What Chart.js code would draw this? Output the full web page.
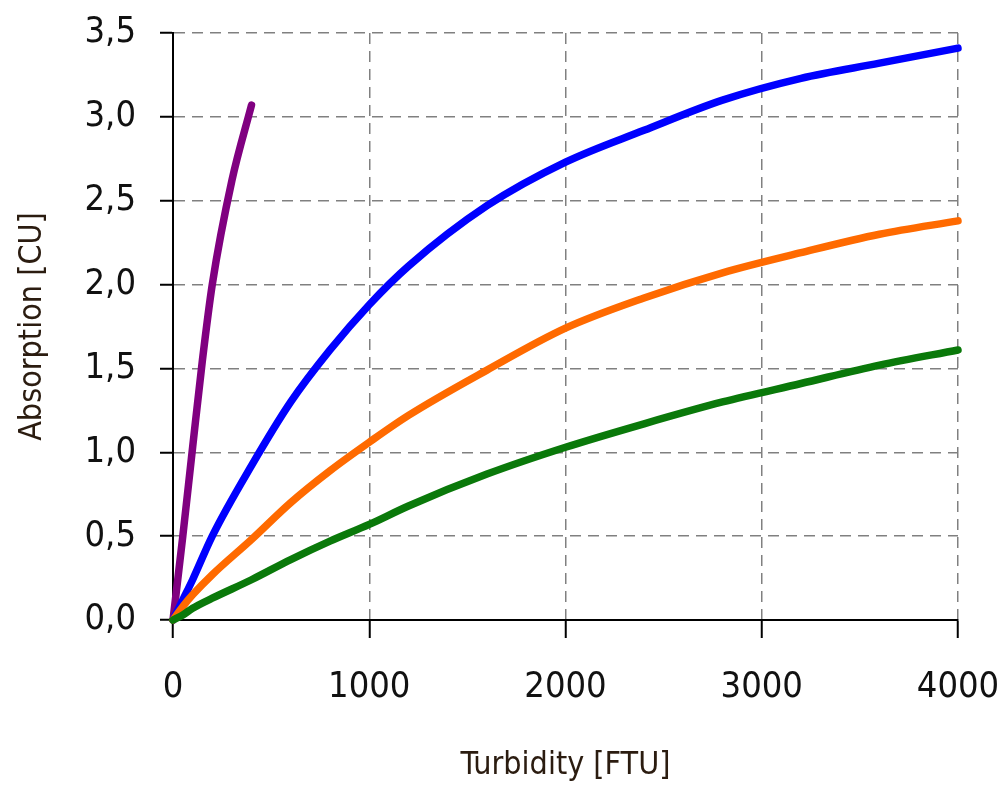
<!DOCTYPE html>
<html>
<head>
<meta charset="utf-8">
<script src="https://cdn.jsdelivr.net/npm/chart.js@4.4.0/dist/chart.umd.min.js"></script>
<style>
  html, body { margin: 0; padding: 0; background: #fff; }
  #wrap { width: 1003px; height: 789px; }
</style>
</head>
<body>
<div id="wrap"><canvas id="c" width="1003" height="789"></canvas></div>
<script>
// turbidity values (FTU) shared by the three long curves
const turbidity = [0, 50, 100, 200, 400, 600, 800, 1000, 1200, 1600, 2000, 2400, 2800, 3200, 3600, 4000];
const blueAbs   = [0, 0.12, 0.24, 0.50, 0.92, 1.30, 1.61, 1.88, 2.11, 2.47, 2.73, 2.92, 3.10, 3.23, 3.32, 3.41];
const orangeAbs = [0, 0.08, 0.15, 0.27, 0.48, 0.70, 0.89, 1.06, 1.22, 1.49, 1.74, 1.92, 2.07, 2.19, 2.30, 2.38];
const greenAbs  = [0, 0.03, 0.07, 0.13, 0.24, 0.36, 0.47, 0.57, 0.68, 0.87, 1.03, 1.17, 1.30, 1.41, 1.52, 1.61];

// purple curve only goes up to 400 FTU
const purpleTurbidity = [0, 50, 100, 150, 200, 300, 400];
const purpleAbs       = [0, 0.50, 1.03, 1.55, 2.00, 2.62, 3.07];

const xTicks = [0, 1000, 2000, 3000, 4000];
const yTicks = [0, 0.5, 1.0, 1.5, 2.0, 2.5, 3.0, 3.5];

const toPts = (xs, ys) => xs.map((x, i) => ({ x: x, y: ys[i] }));

function serie(data, color) {
    return {
        data: data,
        borderColor: color,
        backgroundColor: color,
        borderWidth: 7.5,
        pointRadius: 0,
        borderCapStyle: 'round',
        borderJoinStyle: 'round',
        cubicInterpolationMode: 'monotone',
        fill: false,
        clip: false
    };
}

const fam = '"DejaVu Sans Condensed", "Liberation Sans Narrow", sans-serif';
const tickFont = { family: fam, size: 36 };
const titleFont = { family: fam, size: 32 };

new Chart(document.getElementById('c'), {
    type: 'line',
    data: {
        datasets: [
            serie(toPts(turbidity, greenAbs), '#0a790a'),
            serie(toPts(turbidity, orangeAbs), '#ff6a00'),
            serie(toPts(turbidity, blueAbs), '#0000ff'),
            serie(toPts(purpleTurbidity, purpleAbs), '#800080')
        ]
    },
    options: {
        responsive: false,
        animation: false,
        layout: { padding: { top: 33, right: 45, left: 0, bottom: 0 } },
        plugins: {
            legend: { display: false },
            tooltip: { enabled: false }
        },
        scales: {
            x: {
                type: 'linear',
                min: 0, max: 4000,
                afterBuildTicks: s => { s.ticks = xTicks.map(v => ({ value: v })); },
                afterFit: s => { s.height = 169; s.paddingLeft = 0; s.paddingRight = 0; },
                grid: { color: '#808080', lineWidth: 1.5, tickLength: 18, tickColor: '#000', tickWidth: 2 },
                border: { display: true, color: '#000', width: 2, dash: [11, 7] },
                ticks: { font: tickFont, color: '#111', padding: 28, maxRotation: 0, callback: v => String(v) },
                title: { display: true, text: 'Turbidity [FTU]', font: titleFont, color: '#2b1c10', padding: { top: 0, bottom: 4 } }
            },
            y: {
                type: 'linear',
                min: 0, max: 3.5,
                afterBuildTicks: s => { s.ticks = yTicks.map(v => ({ value: v })); },
                afterFit: s => { s.width = 173; s.paddingTop = 0; s.paddingBottom = 0; },
                grid: { color: '#808080', lineWidth: 1.5, tickLength: 13, tickColor: '#000', tickWidth: 2 },
                border: { display: true, color: '#000', width: 2, dash: [11, 7] },
                ticks: {
                    font: tickFont, color: '#111', padding: 24,
                    callback: v => v.toFixed(1).replace('.', ',')
                },
                title: { display: true, text: 'Absorption [CU]', font: titleFont, color: '#2b1c10', padding: { top: 13, bottom: 0 } }
            }
        }
    }
});
</script>
</body>
</html>
